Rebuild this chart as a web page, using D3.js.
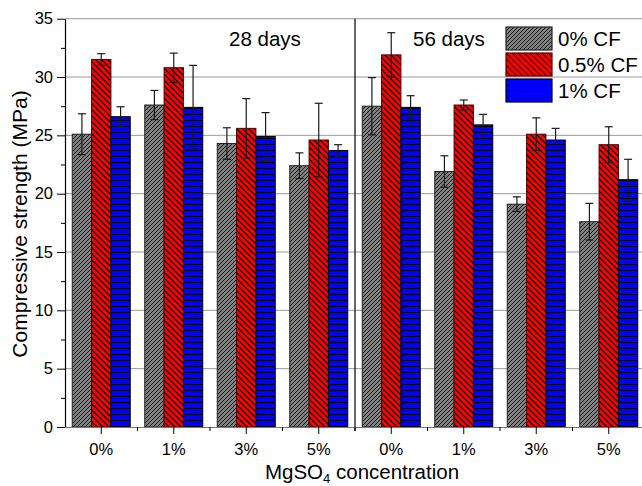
<!DOCTYPE html>
<html>
<head>
<meta charset="utf-8">
<script src="https://cdn.jsdelivr.net/npm/d3@7"></script>
<style>
    html, body { margin: 0; padding: 0; background: #fff; }
    svg { display: block; font-family: "Liberation Sans", Arial, sans-serif; }
</style>
</head>
<body>
<div id="chart"></div>
<script>
// categories
const ages = ["28 days", "56 days"]
const concentrations = ["0%", "1%", "3%", "5%"]
const fibres = ["0% CF", "0.5% CF", "1% CF"]

// mean compressive strength (MPa), one row per fibre content
const strength28 = [
    [25.1, 27.6, 24.3, 22.4],
    [31.5, 30.8, 25.6, 24.6],
    [26.6, 27.4, 24.9, 23.7]
]
const strength56 = [
    [27.5, 21.9, 19.1, 17.6],
    [31.9, 27.6, 25.1, 24.2],
    [27.4, 25.9, 24.6, 21.2]
]
// error bar half-lengths (MPa)
const error28 = [
    [1.75, 1.25, 1.35, 1.1],
    [0.5, 1.25, 2.55, 3.15],
    [0.85, 3.6, 2.05, 0.5]
]
const error56 = [
    [2.45, 1.35, 0.63, 1.57],
    [1.9, 0.43, 1.4, 1.54],
    [1.0, 0.9, 1.0, 1.75]
]
const yTicks = [0, 5, 10, 15, 20, 25, 30, 35]
const yMinorTicks = [2.5, 7.5, 12.5, 17.5, 22.5, 27.5, 32.5]

const width = 642,
    height = 486;
const margin = ({ top: 18.7, right: -3, bottom: 59, left: 65 })

// flatten to one row per bar
const keys = ages.flatMap(a => concentrations.map(c => a + "|" + c))
const data = []
ages.forEach((age, a) => {
    const vals = a == 0 ? strength28 : strength56
    const errs = a == 0 ? error28 : error56
    fibres.forEach((f, s) => {
        concentrations.forEach((c, i) => {
            data.push({ key: age + "|" + c, fibre: f, s: s, value: vals[s][i], err: errs[s][i] })
        })
    })
})

const svg = d3.select("#chart").append("svg")
    .attr("width", width)
    .attr("height", height)

// hatch patterns
const defs = svg.append("defs")
const pats = [
    { id: "hatch0", size: 4, fill: "#808080", d: "M-1,1 l2,-2 M0,4 l4,-4 M3,5 l2,-2", w: 0.8 },
    { id: "hatch1", size: 6, fill: "#ff0000", d: "M-1,5 l2,2 M0,0 l6,6 M5,-1 l2,2", w: 1.1 },
    { id: "hatch2", size: 6, fill: "#0000ff", d: "M0,0.5 h6", w: 1 }
]
pats.forEach(p => {
    const pat = defs.append("pattern")
        .attr("id", p.id)
        .attr("patternUnits", "userSpaceOnUse")
        .attr("width", p.size)
        .attr("height", p.size)
    pat.append("rect").attr("width", p.size).attr("height", p.size).attr("fill", p.fill)
    pat.append("path").attr("d", p.d).attr("stroke", "#000").attr("stroke-width", p.w)
})
const strokes = ["#222", "#500", "#001"]

// scales
const x = d3.scaleBand()
    .domain(keys)
    .range([margin.left, width - margin.right])
    .paddingInner(0.2)
    .paddingOuter(0.1)
const xs = d3.scaleBand()
    .domain(fibres)
    .range([0, x.bandwidth()])
const y = d3.scaleLinear()
    .domain([0, 35])
    .range([height - margin.bottom, margin.top])

const gap = (x.step() - x.bandwidth()) / 2

// gridlines
svg.append("g")
    .selectAll("line")
    .data(yTicks.slice(1))
    .join("line")
    .attr("x1", margin.left)
    .attr("x2", width)
    .attr("y1", d => y(d))
    .attr("y2", d => y(d))
    .attr("stroke", "#9a9a9a")
    .attr("stroke-width", 1)

// bars
svg.append("g")
    .selectAll("rect")
    .data(data)
    .join("rect")
    .attr("x", d => x(d.key) + xs(d.fibre))
    .attr("y", d => y(d.value))
    .attr("width", xs.bandwidth())
    .attr("height", d => y(0) - y(d.value))
    .attr("fill", d => `url(#hatch${d.s})`)
    .attr("stroke", d => strokes[d.s])
    .attr("stroke-width", 1)

// error bars
const eb = svg.append("g")
    .attr("stroke", "#1a1a1a")
    .attr("stroke-width", 1.2)
    .selectAll("g")
    .data(data)
    .join("g")
    .attr("transform", d => `translate(${x(d.key) + xs(d.fibre) + xs.bandwidth() / 2},0)`)
eb.append("line")
    .attr("y1", d => y(d.value - d.err))
    .attr("y2", d => y(d.value + d.err))
eb.append("line")
    .attr("x1", -4).attr("x2", 4)
    .attr("y1", d => y(d.value + d.err))
    .attr("y2", d => y(d.value + d.err))
eb.append("line")
    .attr("x1", -4).attr("x2", 4)
    .attr("y1", d => y(d.value - d.err))
    .attr("y2", d => y(d.value - d.err))

// divider between 28 and 56 days
const divX = x(keys[concentrations.length]) - gap
svg.append("line")
    .attr("x1", divX).attr("x2", divX)
    .attr("y1", y(35)).attr("y2", y(0) + 4)
    .attr("stroke", "#000")
    .attr("stroke-width", 1.2)

// y axis
const yAxis = svg.append("g")
    .attr("transform", `translate(${margin.left},0)`)
    .call(d3.axisLeft(y).tickValues(yTicks).tickSize(8).tickSizeOuter(0).tickPadding(4))
yAxis.select(".domain").attr("stroke", "#000").attr("stroke-width", 1.2)
yAxis.selectAll("text").style("font-size", "16.5px").attr("fill", "#000")
svg.append("g")
    .attr("transform", `translate(${margin.left},0)`)
    .call(d3.axisLeft(y).tickValues(yMinorTicks).tickSize(4).tickFormat(""))
    .call(g => g.select(".domain").remove())

// x axis
const xAxis = svg.append("g")
    .attr("transform", `translate(0,${y(0)})`)
    .call(d3.axisBottom(x).tickSize(7).tickSizeOuter(0).tickPadding(9).tickFormat(k => k.split("|")[1]))
xAxis.select(".domain").attr("stroke", "#777").attr("stroke-width", 1.2)
xAxis.selectAll("text").style("font-size", "16.5px").attr("fill", "#000")
svg.append("g")
    .attr("stroke", "#000")
    .selectAll("line")
    .data(keys.slice(1))
    .join("line")
    .attr("x1", k => x(k) - gap)
    .attr("x2", k => x(k) - gap)
    .attr("y1", y(0))
    .attr("y2", y(0) + 4)

// panel labels
svg.append("text")
    .attr("x", 229).attr("y", 46)
    .style("font-size", "20.5px")
    .text(ages[0])
svg.append("text")
    .attr("x", 413).attr("y", 46)
    .style("font-size", "20.5px")
    .text(ages[1])

// legend
const legend = svg.append("g")
    .attr("transform", "translate(506,27)")
    .selectAll("g")
    .data(fibres)
    .join("g")
    .attr("transform", (d, i) => `translate(0,${i * 26})`)
legend.append("rect")
    .attr("width", 46)
    .attr("height", 23)
    .attr("fill", (d, i) => `url(#hatch${i})`)
    .attr("stroke", (d, i) => strokes[i])
    .attr("stroke-width", 1.2)
legend.append("text")
    .attr("x", 52)
    .attr("y", 19)
    .style("font-size", "20.5px")
    .text(d => d)

// axis titles
svg.append("text")
    .attr("transform", `translate(27,224) rotate(-90)`)
    .attr("text-anchor", "middle")
    .style("font-size", "21px")
    .text("Compressive strength (MPa)")
const xt = svg.append("text")
    .attr("x", 362)
    .attr("y", 479)
    .attr("text-anchor", "middle")
    .style("font-size", "20.5px")
xt.append("tspan").text("MgSO")
xt.append("tspan").attr("dy", 4).style("font-size", "13px").text("4")
xt.append("tspan").attr("dy", -4).text(" concentration")
</script>
</body>
</html>
